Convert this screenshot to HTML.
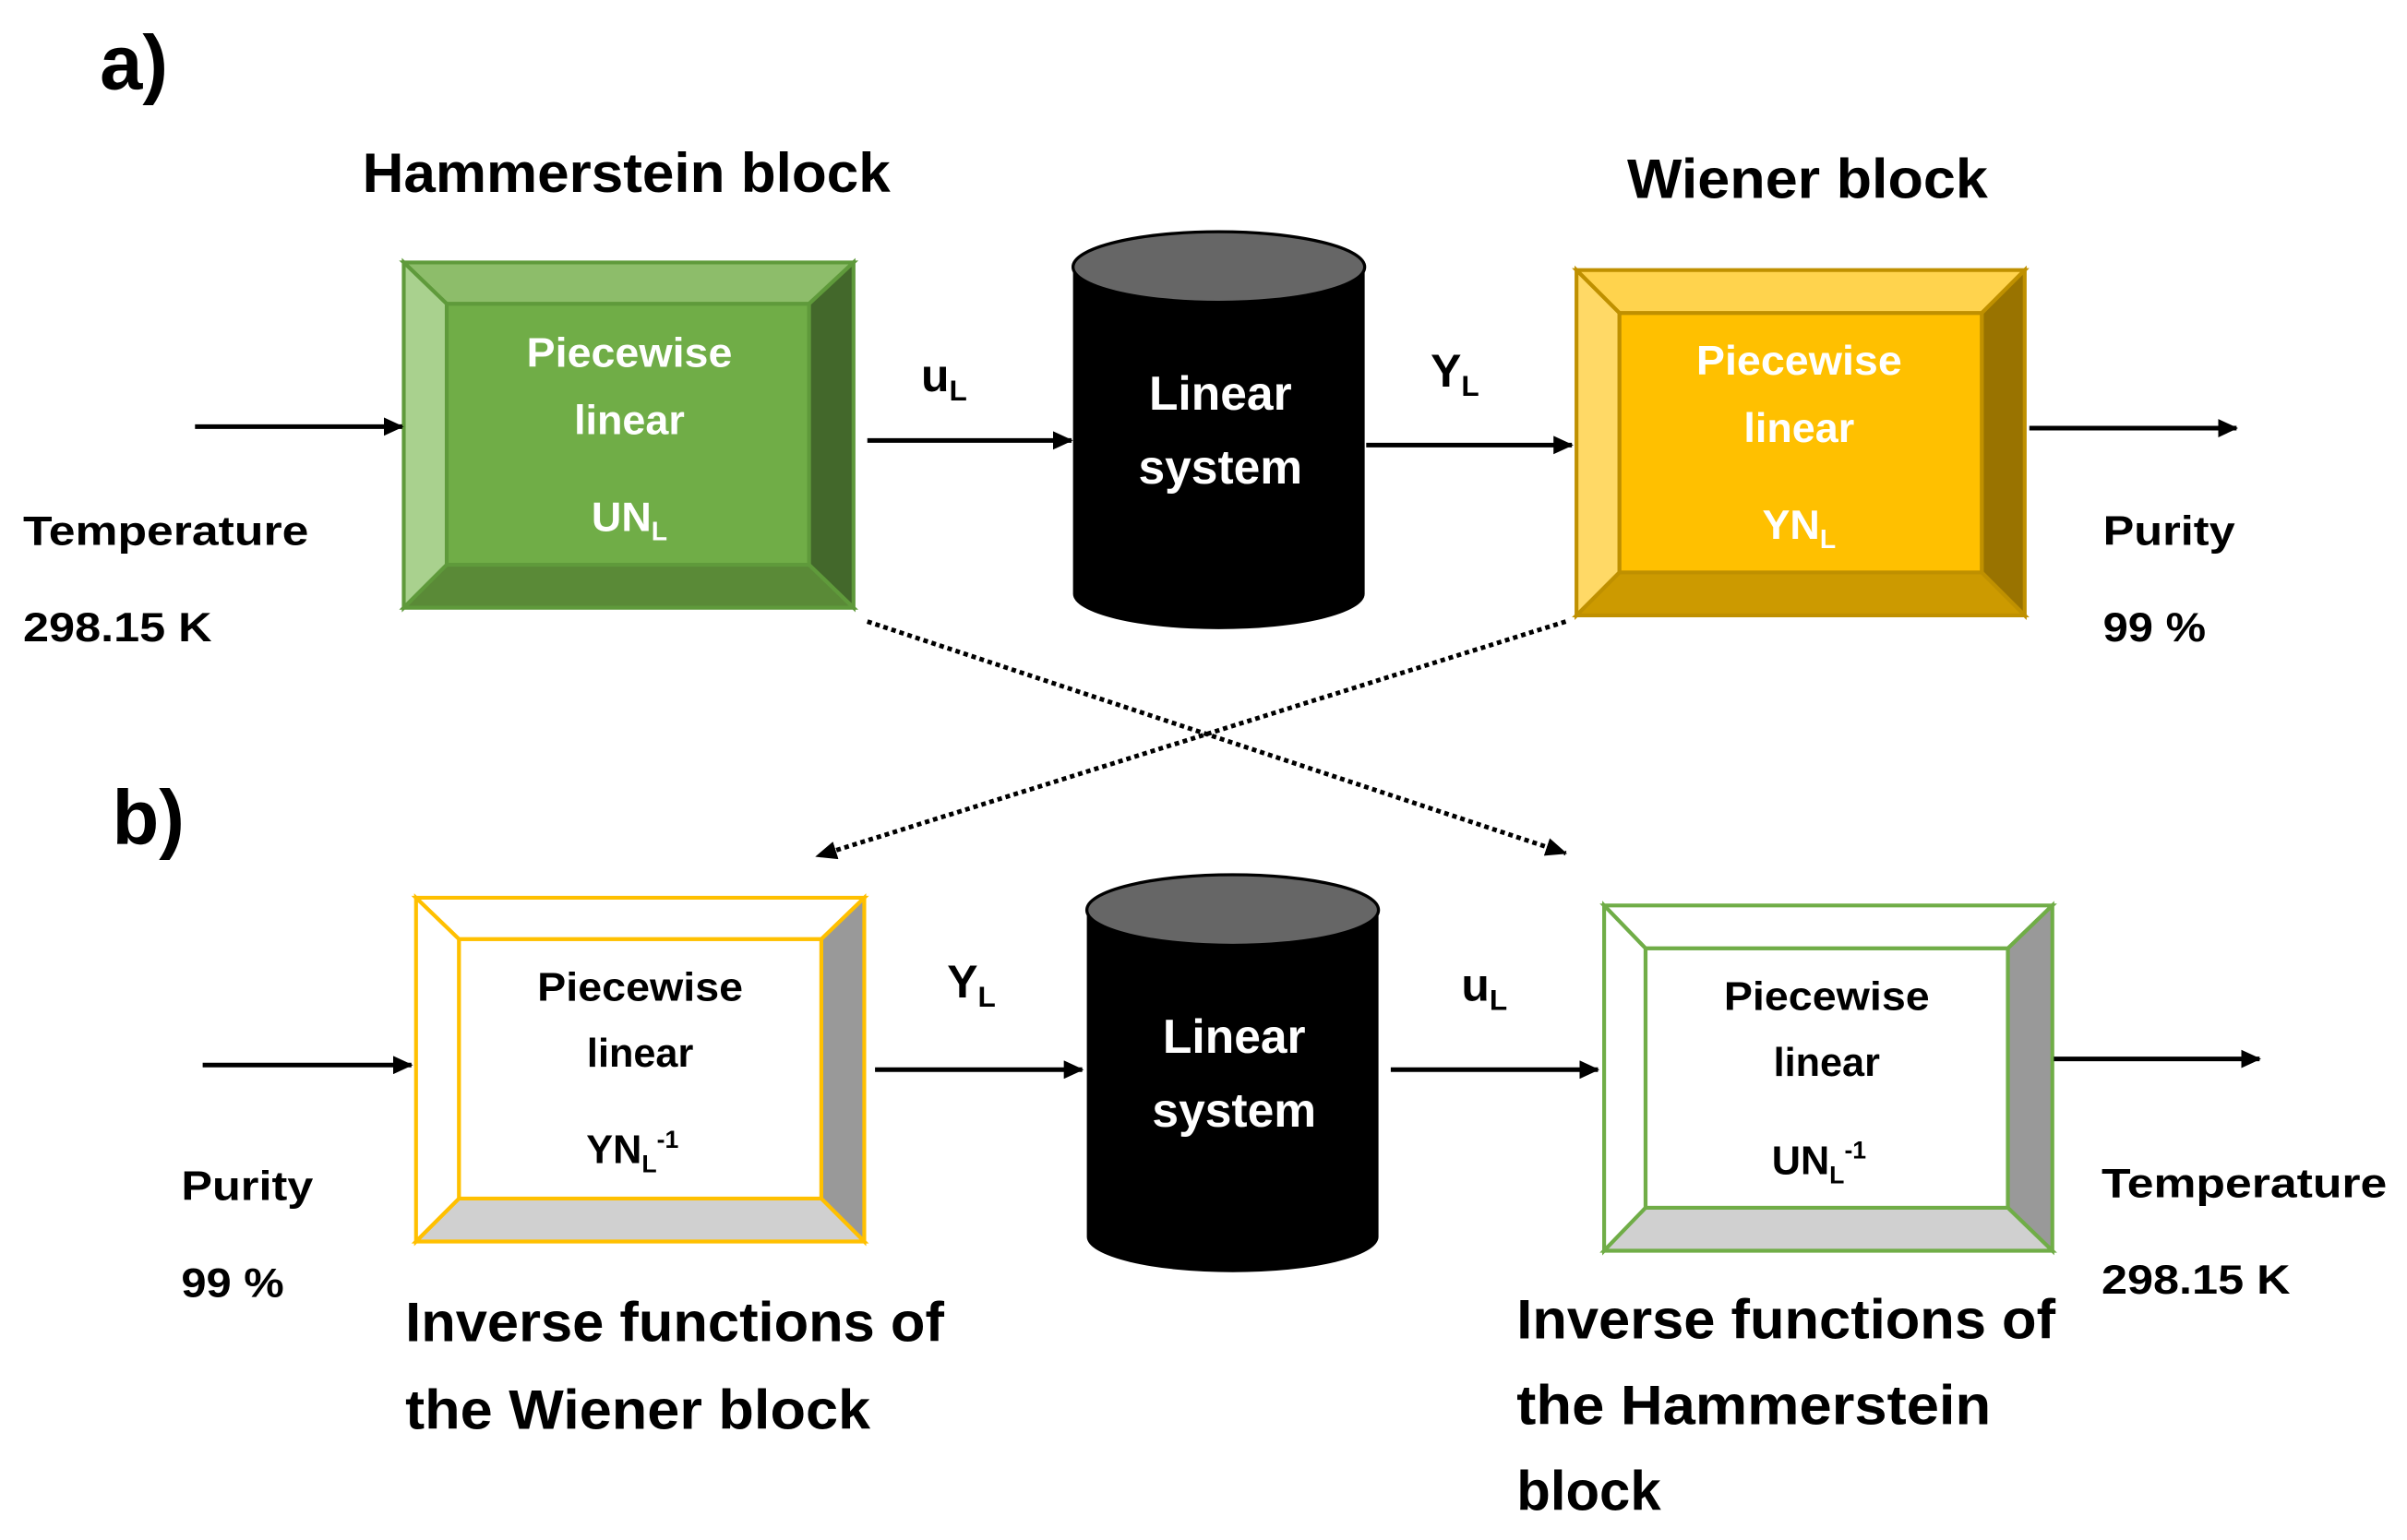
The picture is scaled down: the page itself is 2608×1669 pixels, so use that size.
<!DOCTYPE html>
<html><head><meta charset="utf-8"><style>
html,body{margin:0;padding:0;background:#fff;}
svg{display:block;}
text{font-family:"Liberation Sans",sans-serif;font-weight:bold;}
</style></head><body>
<svg width="2608" height="1669" viewBox="0 0 1568 1003.5" xmlns="http://www.w3.org/2000/svg">
<defs>
<marker id="ah" markerWidth="13" markerHeight="12" refX="12" refY="6" orient="auto" markerUnits="userSpaceOnUse" viewBox="0 0 13 12">
<path d="M0,0 L13,6 L0,12 z" fill="#000"/></marker>
<marker id="ah2" markerWidth="14" markerHeight="12" refX="13" refY="6" orient="auto" markerUnits="userSpaceOnUse" viewBox="0 0 14 12">
<path d="M0,0 L14,6 L0,12 z" fill="#000"/></marker>
</defs>

<text x="65" y="58" font-size="50">a)</text>
<text x="73" y="550" font-size="50">b)</text>

<text x="236" y="125" font-size="36" textLength="344" lengthAdjust="spacingAndGlyphs">Hammerstein block</text>
<text x="1060" y="129" font-size="36" textLength="235" lengthAdjust="spacingAndGlyphs">Wiener block</text>

<g stroke="#5f9a3b" stroke-width="2.5">
<polygon points="263,171 556,171 527,198 291,198" fill="#8dbd6a"/>
<polygon points="263,171 291,198 291,368 263,396" fill="#a9d18e"/>
<polygon points="556,171 556,396 527,368 527,198" fill="#43682b"/>
<polygon points="263,396 291,368 527,368 556,396" fill="#5a8a37"/>
<rect x="291" y="198" width="236" height="170" fill="#70ad47"/>
</g>
<g fill="#fff" font-size="27" text-anchor="middle">
<text x="410" y="239" textLength="134" lengthAdjust="spacingAndGlyphs">Piecewise</text>
<text x="410" y="283">linear</text>
<text x="410" y="346">UN<tspan font-size="17" dy="6">L</tspan></text>
</g>

<g stroke="#bf9000" stroke-width="2.5">
<polygon points="1027,176 1319,176 1291,204 1055,204" fill="#ffd34d"/>
<polygon points="1027,176 1055,204 1055,373 1027,401" fill="#ffd966"/>
<polygon points="1319,176 1319,401 1291,373 1291,204" fill="#997300"/>
<polygon points="1027,401 1055,373 1291,373 1319,401" fill="#cc9a00"/>
<rect x="1055" y="204" width="236" height="169" fill="#ffc000"/>
</g>
<g fill="#fff" font-size="27" text-anchor="middle">
<text x="1172" y="244" textLength="134" lengthAdjust="spacingAndGlyphs">Piecewise</text>
<text x="1172" y="288">linear</text>
<text x="1172" y="351">YN<tspan font-size="17" dy="6">L</tspan></text>
</g>

<path d="M699,174 L699,387 A95,23 0 0 0 889,387 L889,174 Z" fill="#000"/>
<ellipse cx="794" cy="174" rx="95" ry="23" fill="#666" stroke="#000" stroke-width="2"/>
<g fill="#fff" font-size="31" text-anchor="middle">
<text x="795" y="267">Linear</text>
<text x="795" y="315">system</text>
</g>

<path d="M708,593 L708,806 A95,23 0 0 0 898,806 L898,593 Z" fill="#000"/>
<ellipse cx="803" cy="593" rx="95" ry="23" fill="#666" stroke="#000" stroke-width="2"/>
<g fill="#fff" font-size="31" text-anchor="middle">
<text x="804" y="686">Linear</text>
<text x="804" y="734">system</text>
</g>

<g stroke="#ffc000" stroke-width="2.5">
<polygon points="271,585 563,585 535,612 299,612" fill="#fff"/>
<polygon points="271,585 299,612 299,781 271,809" fill="#fff"/>
<polygon points="563,585 563,809 535,781 535,612" fill="#999"/>
<polygon points="271,809 299,781 535,781 563,809" fill="#d0d0d0"/>
<rect x="299" y="612" width="236" height="169" fill="#fff"/>
</g>
<g fill="#000" font-size="26" text-anchor="middle">
<text x="417" y="652" textLength="134" lengthAdjust="spacingAndGlyphs">Piecewise</text>
<text x="417" y="695">linear</text>
<text x="412" y="758">YN<tspan font-size="16" dy="6">L</tspan><tspan font-size="16" dy="-16">-1</tspan></text>
</g>

<g stroke="#70ad47" stroke-width="2.5">
<polygon points="1045,590 1337,590 1308,618 1072,618" fill="#fff"/>
<polygon points="1045,590 1072,618 1072,787 1045,815" fill="#fff"/>
<polygon points="1337,590 1337,815 1308,787 1308,618" fill="#999"/>
<polygon points="1045,815 1072,787 1308,787 1337,815" fill="#d0d0d0"/>
<rect x="1072" y="618" width="236" height="169" fill="#fff"/>
</g>
<g fill="#000" font-size="26" text-anchor="middle">
<text x="1190" y="658" textLength="134" lengthAdjust="spacingAndGlyphs">Piecewise</text>
<text x="1190" y="701">linear</text>
<text x="1185" y="765">UN<tspan font-size="16" dy="6">L</tspan><tspan font-size="16" dy="-16">-1</tspan></text>
</g>

<g stroke="#000" stroke-width="3" marker-end="url(#ah)">
<line x1="127" y1="278" x2="262" y2="278"/>
<line x1="565" y1="287" x2="698" y2="287"/>
<line x1="890" y1="290" x2="1024" y2="290"/>
<line x1="1322" y1="279" x2="1457" y2="279"/>
<line x1="132" y1="694" x2="268" y2="694"/>
<line x1="570" y1="697" x2="705" y2="697"/>
<line x1="906" y1="697" x2="1041" y2="697"/>
<line x1="1338" y1="690" x2="1472" y2="690"/>
</g>
<g stroke="#000" stroke-width="3" stroke-dasharray="3,2.5" marker-end="url(#ah2)" fill="none">
<line x1="565" y1="405" x2="1020" y2="556"/>
<line x1="1020" y1="405" x2="532" y2="558"/>
</g>

<g fill="#000" font-size="30">
<text x="600" y="255">u<tspan font-size="19" dy="6">L</tspan></text>
<text x="932" y="252">Y<tspan font-size="19" dy="6">L</tspan></text>
<text x="617" y="650">Y<tspan font-size="19" dy="6">L</tspan></text>
<text x="952" y="652">u<tspan font-size="19" dy="6">L</tspan></text>
</g>
<g fill="#000" font-size="27">
<text x="15" y="355" textLength="186" lengthAdjust="spacingAndGlyphs">Temperature</text>
<text x="15" y="418" textLength="123" lengthAdjust="spacingAndGlyphs">298.15 K</text>
<text x="1370" y="355" textLength="86" lengthAdjust="spacingAndGlyphs">Purity</text>
<text x="1370" y="418" textLength="67" lengthAdjust="spacingAndGlyphs">99 %</text>
<text x="118" y="782" textLength="86" lengthAdjust="spacingAndGlyphs">Purity</text>
<text x="118" y="845" textLength="67" lengthAdjust="spacingAndGlyphs">99 %</text>
<text x="1369" y="780" textLength="186" lengthAdjust="spacingAndGlyphs">Temperature</text>
<text x="1369" y="843" textLength="123" lengthAdjust="spacingAndGlyphs">298.15 K</text>
</g>
<g fill="#000" font-size="36">
<text x="264" y="874" textLength="351" lengthAdjust="spacingAndGlyphs">Inverse functions of</text>
<text x="264" y="931" textLength="303" lengthAdjust="spacingAndGlyphs">the Wiener block</text>
<text x="988" y="872" textLength="351" lengthAdjust="spacingAndGlyphs">Inverse functions of</text>
<text x="988" y="928" textLength="309" lengthAdjust="spacingAndGlyphs">the Hammerstein</text>
<text x="988" y="984" textLength="94" lengthAdjust="spacingAndGlyphs">block</text>
</g>
</svg>
</body></html>
